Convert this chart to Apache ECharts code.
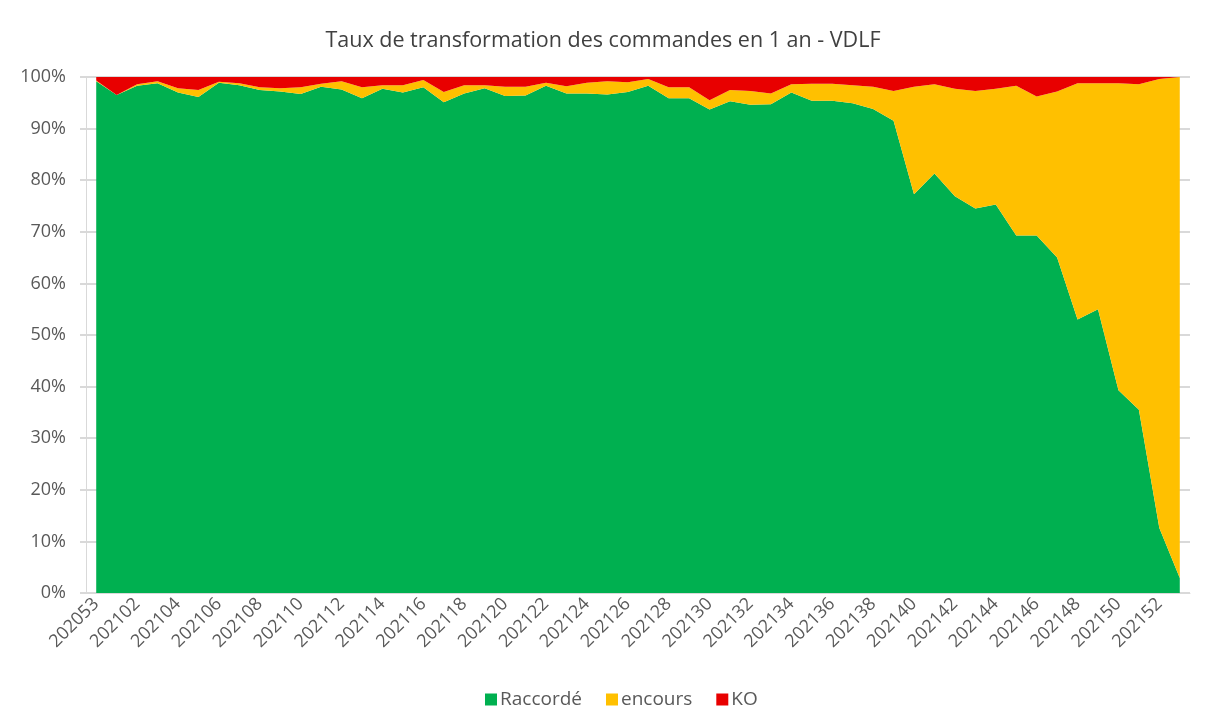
<!DOCTYPE html>
<html>
<head>
    <meta charset="utf-8">
    <title>Taux de transformation - VDLF</title>
    <script src="https://cdn.jsdelivr.net/npm/echarts@6/dist/echarts.min.js"></script>
    <style>
        html, body { margin: 0; padding: 0; background: #fff; }
        #container { width: 1206px; height: 717px; }
    </style>
</head>
<body>
<div id="container"></div>
<script type="text/javascript">
// semaines (202053 -> 202201), une étiquette sur deux affichée
var weeks = ['202053'];
for (var w = 1; w <= 52; w++) {
    weeks.push('2021' + (w < 10 ? '0' + w : '' + w));
}
weeks.push('202201');

var raccorde = [99.2, 96.5, 98.3, 98.8, 97.0, 96.1, 98.9, 98.4, 97.5, 97.2,
                96.7, 98.1, 97.6, 95.9, 97.7, 97.0, 98.0, 95.1, 96.8, 97.8,
                96.3, 96.4, 98.3, 96.8, 96.8, 96.6, 97.1, 98.3, 95.9, 95.9,
                93.7, 95.3, 94.6, 94.7, 97.0, 95.4, 95.4, 94.9, 93.8, 91.5,
                77.3, 81.3, 76.9, 74.5, 75.3, 69.3, 69.3, 65.0, 53.0, 55.0,
                39.3, 35.5, 12.6, 2.9];
var encours = [0.1, 0.0, 0.3, 0.4, 0.8, 1.4, 0.2, 0.4, 0.5, 0.6,
               1.3, 0.6, 1.6, 2.1, 0.7, 1.4, 1.4, 2.0, 1.6, 0.6,
               1.8, 1.7, 0.6, 1.4, 2.1, 2.6, 1.9, 1.3, 2.1, 2.1,
               1.8, 2.2, 2.7, 2.1, 1.6, 3.3, 3.3, 3.5, 4.3, 5.8,
               20.8, 17.3, 20.8, 22.8, 22.4, 29.0, 26.9, 32.2, 45.8, 43.8,
               59.5, 63.1, 87.0, 97.1];
var ko = [0.7, 3.5, 1.4, 0.8, 2.2, 2.5, 0.9, 1.2, 2.0, 2.2,
          2.0, 1.3, 0.8, 2.0, 1.6, 1.6, 0.6, 2.9, 1.6, 1.6,
          1.9, 1.9, 1.1, 1.8, 1.1, 0.8, 1.0, 0.4, 2.0, 2.0,
          4.5, 2.5, 2.7, 3.2, 1.4, 1.3, 1.3, 1.6, 1.9, 2.7,
          1.9, 1.4, 2.3, 2.7, 2.3, 1.7, 3.8, 2.8, 1.2, 1.2,
          1.2, 1.4, 0.4, 0.0];
var yTicks = [0, 10, 20, 30, 40, 50, 60, 70, 80, 90, 100];

var dom = document.getElementById("container");
var myChart = echarts.init(dom);

function areaSerie(name, data, color) {
    return {
        name: name,
        type: 'line',
        stack: 'total',
        data: data,
        symbol: 'none',
        lineStyle: { width: 0 },
        areaStyle: { color: color, opacity: 1 },
        itemStyle: { color: color },
        emphasis: { disabled: true },
        animation: false
    };
}

var option = {
    textStyle: { fontFamily: 'Open Sans' },
    title: {
        text: 'Taux de transformation des commandes en 1 an - VDLF',
        left: 'center',
        top: 25,
        textStyle: { fontFamily: 'Open Sans', fontSize: 21.5, fontWeight: 'normal', color: '#404040' }
    },
    legend: {
        bottom: 3,
        left: 480,
        icon: 'rect',
        itemWidth: 12,
        itemHeight: 12,
        itemGap: 24,
        textStyle: { fontFamily: 'Open Sans', fontSize: 19, color: '#595959', padding: [0, 0, 0, -2] },
        data: ['Raccordé', 'encours', 'KO']
    },
    grid: { left: 86, right: 16, top: 77, bottom: 124 },
    xAxis: {
        type: 'category',
        boundaryGap: true,
        data: weeks,
        axisLine: { lineStyle: { color: '#d9d9d9' } },
        axisTick: { show: false },
        axisLabel: {
            interval: 1,
            rotate: 45,
            fontSize: 18,
            color: '#595959',
            margin: 8
        }
    },
    yAxis: {
        type: 'value',
        min: yTicks[0],
        max: yTicks[yTicks.length - 1],
        interval: 10,
        axisLine: { show: true, lineStyle: { color: '#d9d9d9' } },
        axisTick: { show: true, length: 6, lineStyle: { color: '#d9d9d9', width: 2 } },
        axisLabel: { formatter: '{value}%', fontSize: 18, color: '#595959', margin: 20 },
        splitLine: { lineStyle: { color: '#d9d9d9', width: 2 } }
    },
    series: [
        areaSerie('Raccordé', raccorde, '#00B050'),
        areaSerie('encours', encours, '#FFC000'),
        areaSerie('KO', ko, '#E80000')
    ]
};

if (option && typeof option === "object") {
    myChart.setOption(option, true);
}
</script>
</body>
</html>
